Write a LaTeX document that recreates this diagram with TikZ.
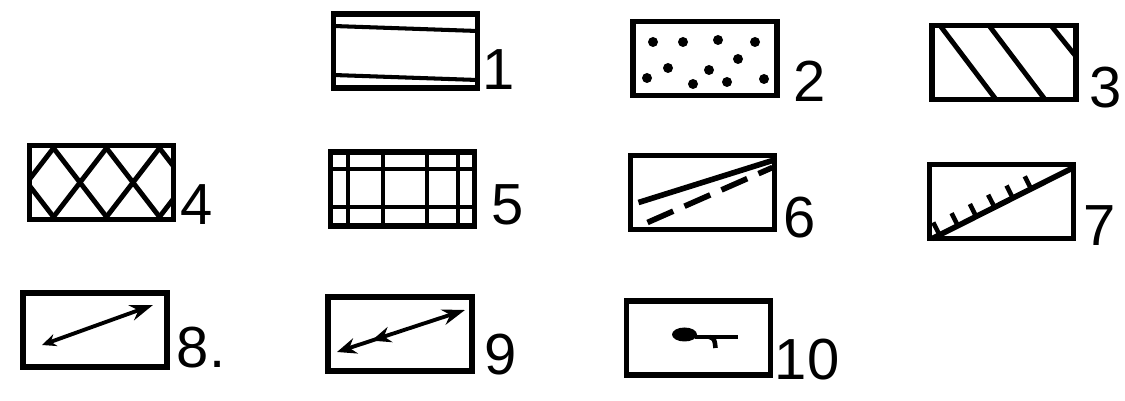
\documentclass[tikz,border=0pt]{standalone}
\usepackage{fontspec}
\setmainfont{Liberation Sans}
\usetikzlibrary{arrows.meta,decorations.markings}

\begin{document}
\begin{tikzpicture}[
        x=0.02cm, y=-0.02cm,
        font=\fontsize{33}{33}\selectfont,
        symbox/.style={rectangle, draw=black, line width=3pt, minimum width=2.88cm, minimum height=1.48cm, inner sep=0pt},
        num/.style={inner sep=0pt},
        hatch/.style={line width=2.8pt},
        heavy/.style={line width=3.2pt},
        inline/.style={line width=2.3pt},
        arrow/.style={line width=2.2pt}
    ]
    \fill[white] (0,0) rectangle (1125,401);
    \useasboundingbox (0,0) rectangle (1125,401);

    % first row
    \node[symbox] (sym1) at (405.5,51) {};
    \node[symbox] (sym2) at (705,58.5) {};
    \node[symbox] (sym3) at (1004,62.5) {};
    \node[num] (lab1) at (499,70) {1};
    \node[num] (lab2) at (810,81) {2};
    \node[num] (lab3) at (1106,88) {3};

    % second row
    \node[symbox] (sym4) at (101.5,182.5) {};
    \node[symbox] (sym5) at (402.5,189) {};
    \node[symbox] (sym6) at (702.5,192.5) {};
    \node[symbox] (sym7) at (1001.5,201.5) {};
    \node[num] (lab4) at (197,205) {4};
    \node[num] (lab5) at (508,205) {5};
    \node[num] (lab6) at (800,218) {6};
    \node[num] (lab7) at (1100,226) {7};

    % third row
    \node[symbox] (sym8) at (95,330) {};
    \node[symbox] (sym9) at (400,334) {};
    \node[symbox] (sym10) at (698.5,338) {};
    \node[num] (lab8) at (201,348) {8.};
    \node[num] (lab9) at (501,355) {9};
    \node[num] (lab10) at (807,360) {10};

    \begin{scope}[shift={(sym1.center)}]
        \draw[inline] (-72,-25) -- (72,-20);
        \draw[inline] (-72,24) -- (72,29);
    \end{scope}

    \begin{scope}[shift={(sym2.center)}]
        \foreach \u/\v in {-52/-16.5, -22/-16.5, 13/-18.5, 50/-16.5, 33/0.5, -37/9.5,
                          4/11.5, -58/19.5, -12/25.5, 22/23.5, 59/20.5}
            \fill (\u,\v) circle[radius=5];
    \end{scope}

    \begin{scope}[shift={(sym3.center)}]
        \draw[hatch] (-64,-37) -- (-8,37);
        \draw[hatch] (-15,-37) -- (41,37);
        \draw[hatch] (47,-37) -- (72,-6);
    \end{scope}

    \begin{scope}[shift={(sym4.center)}]
        \clip (-72,-37) rectangle (72,37);
        \foreach \k in {-3,...,3} {
            \draw[hatch] (3+53*\k,-37) -- (60+53*\k,37);
            \draw[hatch] (7+53*\k,-37) -- (-50+53*\k,37);
        }
    \end{scope}

    \begin{scope}[shift={(sym5.center)}]
        \foreach \u in {-54.5,-19.5,24.5,55.5}
            \draw[hatch] (\u,-37) -- (\u,37);
        \foreach \v in {-20,18}
            \draw[hatch] (-72,\v) -- (72,\v);
    \end{scope}

    \begin{scope}[shift={(sym6.center)}]
        \draw[heavy] (-64,10) -- (70,-32);
        \draw[heavy, dash pattern=on 16pt off 7pt] (-55,30) -- (70,-25);
    \end{scope}

    \begin{scope}[shift={(sym7.center)}]
        \draw[heavy, postaction={decorate}, decoration={markings,
            mark=between positions 0.05 and 0.72 step 0.13 with {\draw[line width=2.6pt] (0,0) -- (0,8pt);}}]
            (-69,37) -- (72,-34);
    \end{scope}

    \begin{scope}[shift={(sym8.center)}]
        \draw[arrow, {Stealth[length=8pt, width=7pt]}-{Stealth[length=13pt, width=9pt]}] (-53,15) -- (58,-25);
    \end{scope}

    \begin{scope}[shift={(sym9.center)}]
        \draw[arrow, {Stealth[length=11pt, width=9pt]}-{Stealth[length=13pt, width=9pt]},
            postaction={decorate}, decoration={markings,
            mark=at position 0.27 with {\arrowreversed{Stealth[length=11pt, width=9pt]}}}]
            (-63,18) -- (65,-24);
    \end{scope}

    \begin{scope}[shift={(sym10.center)}]
        \fill (-14,-3.5) ellipse[x radius=12.5, y radius=7];
        \draw[line width=2.6pt] (-4,-1) -- (39,-1);
        \draw[line width=2.6pt] (11,-1) .. controls (16,1) .. (17,10);
    \end{scope}
\end{tikzpicture}
\end{document}
